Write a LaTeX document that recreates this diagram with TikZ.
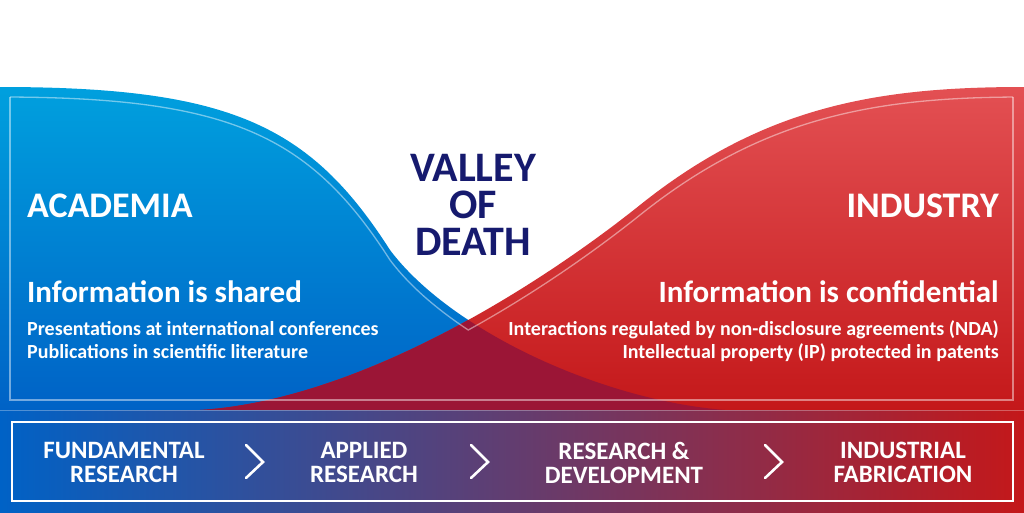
\documentclass[tikz,border=0pt]{standalone}
\usepackage{fontspec}
\setmainfont{Carlito}
\usetikzlibrary{intersections}
\definecolor{acablue}{RGB}{0,160,222}
\definecolor{acablue2}{RGB}{0,98,198}
\definecolor{indred}{RGB}{227,80,83}
\definecolor{indred2}{RGB}{196,24,26}
\definecolor{valley}{RGB}{155,21,54}
\definecolor{navy}{RGB}{22,26,110}
\tikzset{
  title/.style={text=white,font=\bfseries\fontsize{36}{40}\selectfont,inner sep=0pt},
  claim/.style={text=white,font=\bfseries\fontsize{31}{34}\selectfont,inner sep=0pt},
  detail/.style={text=white,font=\bfseries\fontsize{20}{24}\selectfont,inner sep=0pt},
  stage/.style={text=white,font=\bfseries\fontsize{25}{24}\selectfont,align=center,inner sep=0pt},
  chevron/.style={draw=white,line width=2.6pt,line cap=round},
  inset/.style={draw=white,draw opacity=.45,line width=1.3pt}
}
\def\bluecurve{(0,87) .. controls (230,87) and (310,125) .. (390,250) .. controls (450,330) and (600,400) .. (725,410)}
\def\redcurve{(1024,87) .. controls (880,87) and (765,105) .. (640,205) .. controls (540,285) and (360,400) .. (200,410)}
\begin{document}
\begin{tikzpicture}[x=1pt,y=-1pt]
  \useasboundingbox (0,0) rectangle (1024,512);
  % the two worlds
  \shade[top color=acablue, bottom color=acablue2] (0,410) -- \bluecurve -- cycle;
  \shade[top color=indred, bottom color=indred2] (1024,410) -- \redcurve -- cycle;
  \begin{scope}
    \clip (0,410) -- \bluecurve -- cycle;
    \fill[valley] (1024,410) -- \redcurve -- cycle;
  \end{scope}
  % inner frame line
  \path[name path=blueline, shift={(0,10)}] \bluecurve;
  \path[name path=redline, shift={(0,10)}] \redcurve;
  \path[name intersections={of=blueline and redline, by=V}];
  \coordinate (floor) at (0,400);
  \begin{scope}
    \clip (10,0) rectangle (V |- floor);
    \draw[inset, shift={(0,10)}] \bluecurve;
  \end{scope}
  \begin{scope}
    \clip (V |- 0,0) rectangle (1013,400);
    \draw[inset, shift={(0,10)}] \redcurve;
  \end{scope}
  \draw[inset] (10,97) -- (10,400) -- (1013,400) -- (1013,97);
  % stages band
  \shade[left color=acablue2, right color=indred2] (0,410) rectangle (1024,512);
  \draw[white, draw opacity=.3, line width=.8pt] (0,410) -- (1024,410);
  \draw[white, line width=2.5pt] (12,422) rectangle (1013,501);
  % texts
  \node[title, anchor=base west] (aca) at (27,217) {ACADEMIA};
  \node[claim, anchor=base west] (acashare) at (27,302) {Information is shared};
  \node[detail, anchor=base west] (acaconf) at (27,335) {Presentations at international conferences};
  \node[detail, anchor=base west] (acapub) at (27,358) {Publications in scientific literature};
  \node[title, anchor=base east] (ind) at (999,217) {INDUSTRY};
  \node[claim, anchor=base east] (indconf) at (999,302) {Information is confidential};
  \node[detail, anchor=base east] (indnda) at (999,335) {Interactions regulated by non-disclosure agreements (NDA)};
  \node[detail, anchor=base east] (indip) at (999,358) {Intellectual property (IP) protected in patents};
  \node[text=navy, font=\bfseries\fontsize{42}{37}\selectfont, align=center, inner sep=0pt, anchor=north] (vod) at (473,154) {VALLEY\\OF\\DEATH};
  \node[stage, anchor=north] (fund) at (124,442) {FUNDAMENTAL\\RESEARCH};
  \node[stage, anchor=north] (appl) at (364,442) {APPLIED\\RESEARCH};
  \node[stage, anchor=north] (rnd) at (624,442) {RESEARCH \&\\DEVELOPMENT};
  \node[stage, anchor=north] (fab) at (903,442) {INDUSTRIAL\\FABRICATION};
  \foreach \x in {246,471,765}
    \draw[chevron] (\x,445) -- (\x+17,462) -- (\x,478);
\end{tikzpicture}
\end{document}
